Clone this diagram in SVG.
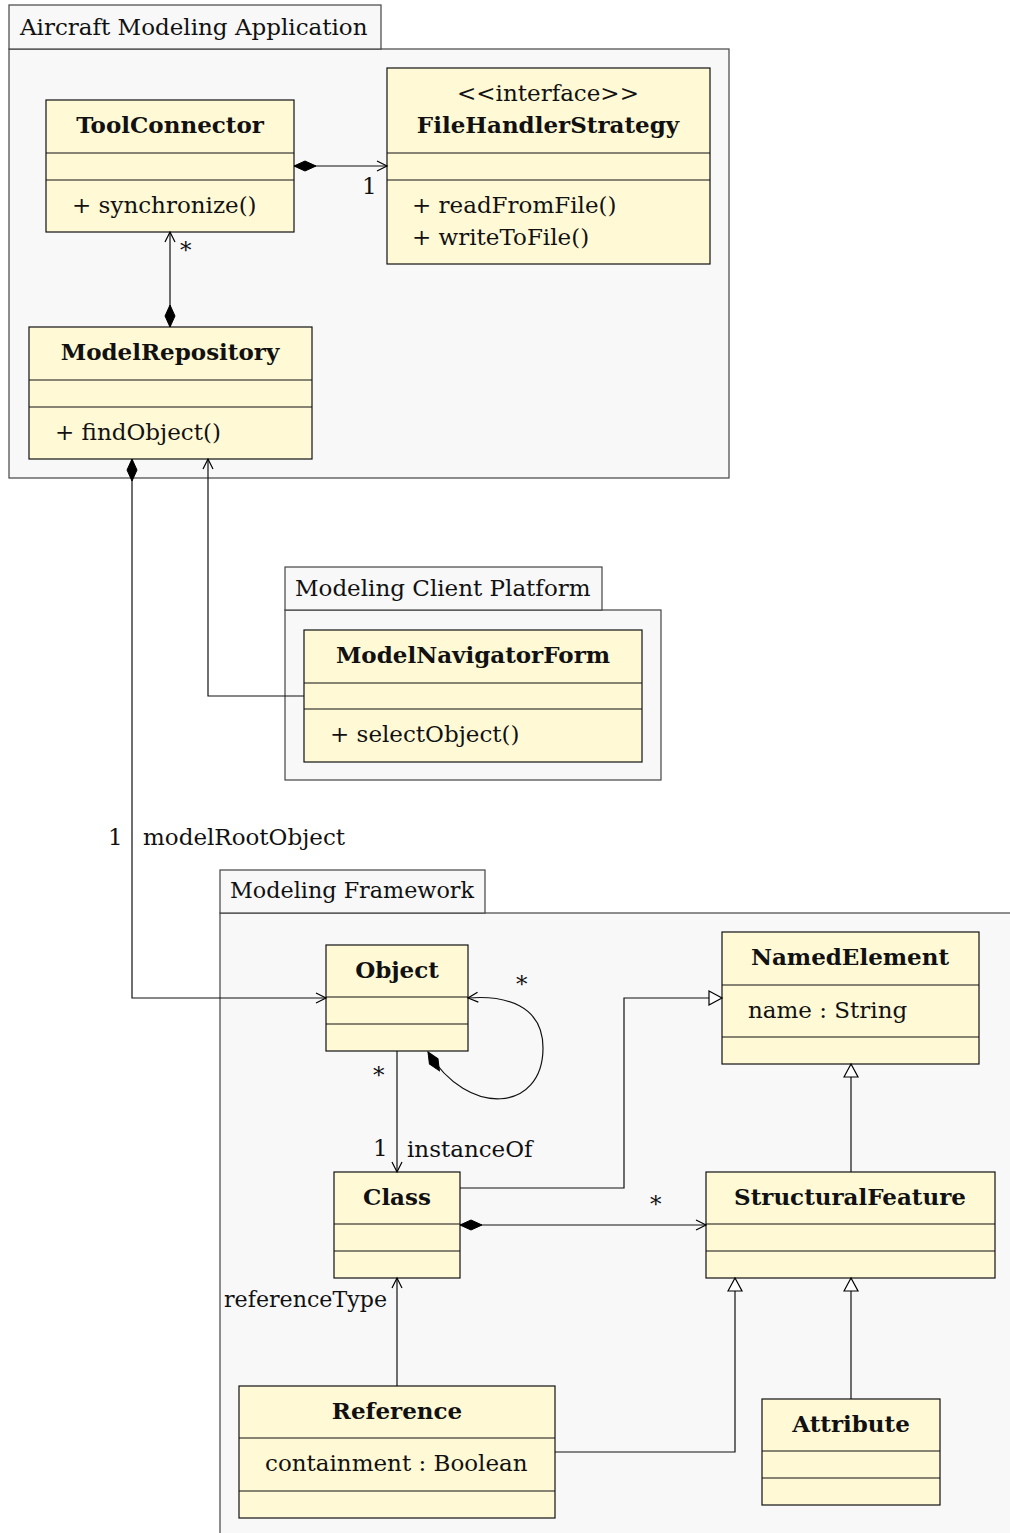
<svg xmlns="http://www.w3.org/2000/svg" width="1010" height="1533" viewBox="0 0 1010 1533">
  <style>
    text { font-family: "DejaVu Serif", "Liberation Serif", serif; font-size: 23px; fill: #111; }
    .name { font-weight: bold; text-anchor: middle; }
    .mid { text-anchor: middle; }
    .end { text-anchor: end; }
    .pkg { fill: #f8f8f8; stroke: #444; stroke-width: 1.2; }
    .cls { fill: #fff9d6; stroke: #111; stroke-width: 1.2; }
    .sep { stroke: #111; stroke-width: 1.2; }
    .edge { fill: none; stroke: #111; stroke-width: 1.2; }
  </style>
  <defs>
    <marker id="diamond" markerUnits="userSpaceOnUse" markerWidth="26" markerHeight="14" viewBox="-1 -7 26 14" refX="0" refY="0" orient="auto">
      <path d="M0,0 L11,-5 L22,0 L11,5 Z" fill="#000" stroke="#000" stroke-width="1"/>
    </marker>
    <marker id="open" markerUnits="userSpaceOnUse" markerWidth="14" markerHeight="14" viewBox="-12 -7 14 14" refX="0" refY="0" orient="auto">
      <path d="M-10,-5 L0,0 L-10,5" fill="none" stroke="#000" stroke-width="1.2"/>
    </marker>
    <marker id="tri" markerUnits="userSpaceOnUse" markerWidth="18" markerHeight="18" viewBox="-15 -9 18 18" refX="0" refY="0" orient="auto">
      <path d="M-13,-7 L0,0 L-13,7 Z" fill="#fff" stroke="#000" stroke-width="1.2"/>
    </marker>
  </defs>

  <!-- packages -->
  <g id="pkg-aircraft">
    <rect class="pkg" x="9" y="49" width="720" height="429"/>
    <rect class="pkg" x="9" y="5" width="372" height="44"/>
    <text x="20" y="35">Aircraft Modeling Application</text>
  </g>
  <g id="pkg-client">
    <rect class="pkg" x="285" y="610" width="376" height="170"/>
    <rect class="pkg" x="285" y="567" width="317" height="43"/>
    <text x="295" y="596">Modeling Client Platform</text>
  </g>
  <g id="pkg-framework">
    <rect class="pkg" x="220" y="913" width="800" height="630"/>
    <rect class="pkg" x="220" y="870" width="265" height="43"/>
    <text x="230" y="898" textLength="244" lengthAdjust="spacingAndGlyphs">Modeling Framework</text>
  </g>

  <!-- classes -->
  <g id="ToolConnector">
    <rect class="cls" x="46" y="100" width="248" height="132"/>
    <line class="sep" x1="46" y1="153" x2="294" y2="153"/>
    <line class="sep" x1="46" y1="180" x2="294" y2="180"/>
    <text class="name" x="170" y="133">ToolConnector</text>
    <text x="72" y="213">+ synchronize()</text>
  </g>
  <g id="FileHandlerStrategy">
    <rect class="cls" x="387" y="68" width="323" height="196"/>
    <line class="sep" x1="387" y1="153" x2="710" y2="153"/>
    <line class="sep" x1="387" y1="180" x2="710" y2="180"/>
    <text class="mid" x="548" y="101">&lt;&lt;interface&gt;&gt;</text>
    <text class="name" x="548" y="133">FileHandlerStrategy</text>
    <text x="412" y="213">+ readFromFile()</text>
    <text x="412" y="245">+ writeToFile()</text>
  </g>
  <g id="ModelRepository">
    <rect class="cls" x="29" y="327" width="283" height="132"/>
    <line class="sep" x1="29" y1="380" x2="312" y2="380"/>
    <line class="sep" x1="29" y1="407" x2="312" y2="407"/>
    <text class="name" x="170" y="360">ModelRepository</text>
    <text x="55" y="440">+ findObject()</text>
  </g>
  <g id="ModelNavigatorForm">
    <rect class="cls" x="304" y="630" width="338" height="132"/>
    <line class="sep" x1="304" y1="683" x2="642" y2="683"/>
    <line class="sep" x1="304" y1="709" x2="642" y2="709"/>
    <text class="name" x="473" y="663">ModelNavigatorForm</text>
    <text x="330" y="742">+ selectObject()</text>
  </g>
  <g id="Object">
    <rect class="cls" x="326" y="945" width="142" height="106"/>
    <line class="sep" x1="326" y1="997" x2="468" y2="997"/>
    <line class="sep" x1="326" y1="1024" x2="468" y2="1024"/>
    <text class="name" x="397" y="978">Object</text>
  </g>
  <g id="NamedElement">
    <rect class="cls" x="722" y="932" width="257" height="132"/>
    <line class="sep" x1="722" y1="985" x2="979" y2="985"/>
    <line class="sep" x1="722" y1="1037" x2="979" y2="1037"/>
    <text class="name" x="850" y="965">NamedElement</text>
    <text x="748" y="1018">name : String</text>
  </g>
  <g id="Class">
    <rect class="cls" x="334" y="1172" width="126" height="106"/>
    <line class="sep" x1="334" y1="1224" x2="460" y2="1224"/>
    <line class="sep" x1="334" y1="1251" x2="460" y2="1251"/>
    <text class="name" x="397" y="1205">Class</text>
  </g>
  <g id="StructuralFeature">
    <rect class="cls" x="706" y="1172" width="289" height="106"/>
    <line class="sep" x1="706" y1="1224" x2="995" y2="1224"/>
    <line class="sep" x1="706" y1="1251" x2="995" y2="1251"/>
    <text class="name" x="850" y="1205">StructuralFeature</text>
  </g>
  <g id="Reference">
    <rect class="cls" x="239" y="1386" width="316" height="132"/>
    <line class="sep" x1="239" y1="1438" x2="555" y2="1438"/>
    <line class="sep" x1="239" y1="1491" x2="555" y2="1491"/>
    <text class="name" x="397" y="1419">Reference</text>
    <text x="265" y="1471">containment : Boolean</text>
  </g>
  <g id="Attribute">
    <rect class="cls" x="762" y="1399" width="178" height="106"/>
    <line class="sep" x1="762" y1="1451" x2="940" y2="1451"/>
    <line class="sep" x1="762" y1="1478" x2="940" y2="1478"/>
    <text class="name" x="851" y="1432">Attribute</text>
  </g>

  <!-- connectors -->
  <g id="connectors">
    <path class="edge" d="M294,166 L387,166" marker-start="url(#diamond)" marker-end="url(#open)"/>
    <text x="362" y="194">1</text>
    <path class="edge" d="M170,327 L170,232" marker-start="url(#diamond)" marker-end="url(#open)"/>
    <text x="180" y="258">*</text>
    <path class="edge" d="M132,459 L132,998 L326,998" marker-start="url(#diamond)" marker-end="url(#open)"/>
    <text x="108" y="845">1</text>
    <text x="143" y="845">modelRootObject</text>
    <path class="edge" d="M304,696 L208,696 L208,459" marker-end="url(#open)"/>
    <path class="edge" d="M428,1052 C468,1118 543,1112 543,1048 C543,1005 505,995 468,998" marker-start="url(#diamond)" marker-end="url(#open)"/>
    <text x="516" y="992">*</text>
    <path class="edge" d="M397,1051 L397,1172" marker-end="url(#open)"/>
    <text x="373" y="1083">*</text>
    <text x="373" y="1156">1</text>
    <text x="407" y="1157">instanceOf</text>
    <path class="edge" d="M460,1188 L624,1188 L624,998 L722,998" marker-end="url(#tri)"/>
    <path class="edge" d="M460,1225 L706,1225" marker-start="url(#diamond)" marker-end="url(#open)"/>
    <text x="650" y="1212">*</text>
    <path class="edge" d="M851,1172 L851,1064" marker-end="url(#tri)"/>
    <path class="edge" d="M397,1386 L397,1278" marker-end="url(#open)"/>
    <text x="224" y="1307" textLength="163" lengthAdjust="spacingAndGlyphs">referenceType</text>
    <path class="edge" d="M555,1452 L735,1452 L735,1278" marker-end="url(#tri)"/>
    <path class="edge" d="M851,1399 L851,1278" marker-end="url(#tri)"/>
  </g>
</svg>
